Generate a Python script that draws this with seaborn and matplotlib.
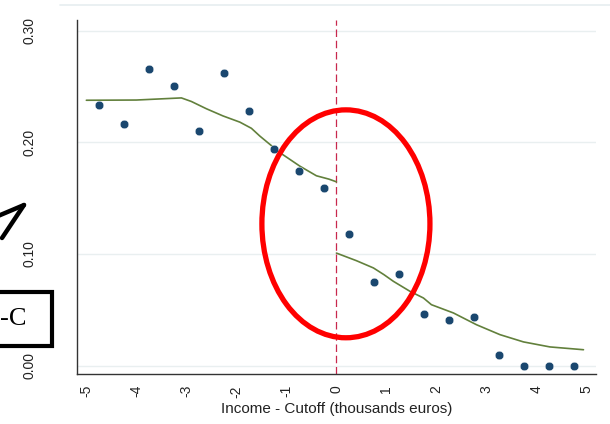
import matplotlib
matplotlib.use("Agg")
import matplotlib.pyplot as plt
import seaborn as sns
import pandas as pd
from matplotlib.patches import Ellipse, Rectangle
from matplotlib.lines import Line2D

# ---- data ----
bin_x = [-4.75, -4.25, -3.75, -3.25, -2.75, -2.25, -1.75, -1.25, -0.75, -0.25,
         0.25, 0.75, 1.25, 1.75, 2.25, 2.75, 3.25, 3.75, 4.25, 4.75]
bin_y = [0.233, 0.216, 0.266, 0.250, 0.210, 0.262, 0.228, 0.194, 0.174, 0.159,
         0.1175, 0.075, 0.082, 0.046, 0.041, 0.044, 0.010, 0.000, 0.000, 0.000]

fit_left_x = [-5.0, -4.0, -3.1, -2.9, -2.6, -2.27, -1.93, -1.7, -1.53, -1.13, -0.73, -0.4, -0.15, 0.0]
fit_left_y = [0.2376, 0.2378, 0.2397, 0.2365, 0.2300, 0.2236, 0.2180, 0.2125, 0.2055, 0.1907, 0.1786,
              0.1700, 0.1670, 0.1646]
fit_right_x = [0.0, 0.4, 0.74, 0.95, 1.14, 1.47, 1.74, 1.9, 2.34, 2.8, 3.27, 3.74, 4.27, 4.94]
fit_right_y = [0.1008, 0.0940, 0.0875, 0.0815, 0.0755, 0.0666, 0.0606, 0.0546, 0.0472, 0.0367,
               0.0278, 0.0213, 0.0168, 0.0143]

x_ticks = [-5, -4, -3, -2, -1, 0, 1, 2, 3, 4, 5]
y_ticks = [0.0, 0.1, 0.2, 0.3]
y_ticklabels = ["0.00", "0.10", "0.20", "0.30"]
x_label = "Income - Cutoff (thousands euros)"
box_text = "-C"

# ---- plot ----
sns.set_style("white")
plt.rcParams['font.family'] = ['Liberation Sans', 'DejaVu Sans']

fig = plt.figure(figsize=(6.1, 4.24), dpi=100)
ax = fig.add_axes([0.126, 0.118, 0.851, 0.835])

for v in y_ticks:
    ax.axhline(v, color="#e9eff0", lw=1.0, zorder=0)

ax.axvline(0, color="#c8284e", lw=0.9, ls=(0, (6, 3)), zorder=1)

df_left = pd.DataFrame({"x": fit_left_x, "y": fit_left_y})
df_right = pd.DataFrame({"x": fit_right_x, "y": fit_right_y})
sns.lineplot(data=df_left, x="x", y="y", ax=ax, color="#62803c", lw=1.2, sort=False, zorder=2)
sns.lineplot(data=df_right, x="x", y="y", ax=ax, color="#62803c", lw=1.2, sort=False, zorder=2)

df_bins = pd.DataFrame({"x": bin_x, "y": bin_y})
sns.scatterplot(data=df_bins, x="x", y="y", ax=ax, color="#1a476f", s=38,
                edgecolor="white", linewidth=0.3, zorder=3)

ax.set_xlim(-5.19, 5.19)
ax.set_ylim(-0.0074, 0.3095)
ax.set_xticks(x_ticks)
ax.set_xticklabels([str(t) for t in x_ticks], rotation=90)
ax.set_yticks(y_ticks)
ax.set_yticklabels(y_ticklabels, rotation=90, va="center")
ax.tick_params(axis="both", direction="out", length=4, width=1, color="#333333",
               labelsize=10, labelcolor="#222222", pad=4)
ax.tick_params(axis="y", pad=25)
ax.set_xlabel(x_label, fontsize=11, color="#222222", labelpad=3)
ax.set_ylabel("")
for s in ["top", "right"]:
    ax.spines[s].set_visible(False)
for s in ["left", "bottom"]:
    ax.spines[s].set_color("#333333")
    ax.spines[s].set_linewidth(1.0)

# red ellipse annotation
ell = Ellipse((0.19, 0.127), width=3.36, height=0.204, fill=False,
              edgecolor="#ff0000", lw=3.8, zorder=5, clip_on=False)
ax.add_patch(ell)

# faint top border line
fig.add_artist(Line2D([60/610, 1.0], [1 - 5/424, 1 - 5/424], color="#e6eef0", lw=1.2))

# partial arrow at left (figure pixel coords)
def fx(px):
    return px / 610
def fy(py):
    return 1 - py / 424
fig.add_artist(Line2D([fx(24), fx(-2)], [fy(205), fy(216)], color="black", lw=3.2,
                      solid_capstyle="round"))
fig.add_artist(Line2D([fx(24), fx(2)], [fy(205), fy(238)], color="black", lw=3.2,
                      solid_capstyle="round"))

# partial box with text
fig.add_artist(Rectangle((fx(-40), fy(346)), fx(92), 54/424, fill=False,
                         edgecolor="black", lw=3.0, transform=fig.transFigure))
fig.text(fx(13), fy(319), box_text, fontsize=19, family="Liberation Serif",
         ha="center", va="center", color="black")

fig.savefig("out.png", dpi=100)
